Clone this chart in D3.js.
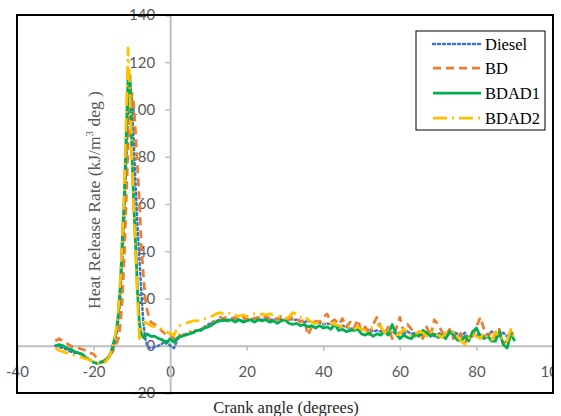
<!DOCTYPE html>
<html><head><meta charset="utf-8">
<script src="https://cdn.jsdelivr.net/npm/d3@7"></script>
<style>body{margin:0;background:#fff}svg{display:block}</style>
</head><body>
<svg id="c" width="561" height="416"></svg>
<script>
const angles = [-30,-29,-28,-27,-26,-25,-24,-23,-22,-21,-20,-19,-18,-17,-16,
 -15.5,-15,-14.5,-14,-13.5,-13,-12.5,-12,-11.5,-11,-10.5,-10,-9.5,-9,-8.5,-8,-7.5,-7,-6.5,-6,-5.5,-5,
 -4,-3,-2,-1,0,1,2,3,4,5,6,7,8,9,10,11,12,13,14,15,16,17,18,19,20,21,22,23,24,25,26,27,28,29,30,
 31,32,33,34,35,36,37,38,39,40,41,42,43,44,45,46,47,48,49,50,51,52,53,54,55,56,57,58,59,60,
 61,62,63,64,65,66,67,68,69,70,71,72,73,74,75,76,77,78,79,80,81,82,83,84,85,86,87,88,89,90];

const diesel = [0,-0.5,-1,-1.5,-2.5,-3,-3,-4,-5,-6,-7,-7.5,-7,-6.5,-5,
 -3.5,-2,1,5,11,21,36,54,76,98,112,104,86,67,50,36,22,10,3,0,-1,-1,
 -0.5,0,1,2,0,-1,3,4,5,5, 6,6.5,7,8,9,10,10.5,11,10.5,11,
 11,11.5,11,10.5,11,11,11.5,11,11,11.5, 11,11,11.5,11,11,11.5,11,11,10.5,10,
 10.5,10,9.5,10,9,9.5,9,8.5,8,8.5, 8,7.5,7,7.5,7,6.5,7,6,6.5,6,
 6,5.5,6,5,5.5,5,6,5,5.5,5, 4.5,5,6,4,5,5.5,4.5,5,6,5,
 4,5.5,3,5,4.5,5,4,5,6,5, 4,5.5,4,5,4];

const bd = [2,3,2,1,0,-1,-1,-1.5,-2,-3,-3.5,-5.5,-7,-6,-4,
 -3.5,-2.5,-1,1,3,9,20,37,60,84,100,107,102,89,75,60,42,30,20,15,12,10,
 9,8,6,4.5,5,3,5,4,5.5,6, 5.5,7,6.5,8,7,9.5,11,12,11.5,12.5,
 11.5,12,11,12,11,12.5,11.5,12,11,12.5, 11.5,12,11,12.5,11.5,11,12,11.5,10,11,
 4.5,8,10.5,10,12,13.5,10,11,9,11.5, 8,10,7.5,11,6,8,4,9,12,8,
 5,8,3,7,12,6,9,7,4,6, 3,8,4,11,9,6,4,7,3,6,
 5,1,5,4,8,12,7,4,6,3, 7,1,2,6,4];

const bdad1 = [0,0.5,0,-1,-1.5,-2.5,-3,-3.5,-5,-6,-7,-7.5,-7,-6.5,-4.5,
 -3,0,3,7,14,26,45,62,88,113,114.5,82,60,42,22,9,5,3.5,4,5,4.5,4,
 4,3,2.5,1,3,1.5,3.5,4,4.5,5, 5.5,6.5,6.5,7.5,8,9,10,10.5,11,10.5,
 11,10,11,10,10.5,11,10,11,10.5,11, 10,10.5,9.5,10.5,11,9.5,9,9.5,8.5,9,
 8,8.5,7.5,8.5,7.5,8,7,9,6.5,7, 6,6.5,6.5,7,5,4.5,5.5,4,5,4.5,
 6,4.5,9,5,3,4.5,3.5,3,5,4, 6.5,5.5,4,5,3.5,4.5,3,6,4.5,2.5,
 2,4,2,6,7.5,4,3,4,2,2, 6,0.5,-1,5,2];

const bdad2 = [-1,-2,-2.5,-3,-3.5,-4,-4.5,-5,-5.5,-6,-7,-7.5,-7.5,-7,-5,
 -3,-1,3,8,16,28,46,65,95,126,108,80,57,37,18,3,7,9,10,9.5,9,8.5,
 8,7.5,7,6,5,4.5,8,9,9.5,10, 10.5,10.5,11,11.5,12,12.5,13.5,14,13.5,14,
 13.5,13,12.5,13,12.5,13,13.5,13,13.5,13, 13.5,13,12.5,12,11.5,12,14,13.5,12,12.5,
 11,10,9.5,10,9.5,10,9.5,9,8.5,8, 8.5,8,7,8,7,6.5,7.5,8,9,8,
 5.5,7,6,4.5,5,7,6,4,5,6, 5.5,4,6,5,4.5,3.5,5.5,5,6,4,
 2,0.5,3,5,4,3,5.5,3,2.5,6, 3,3.5,2,7,2];

const seriesNames = ["Diesel","BD","BDAD1","BDAD2"];
const seriesData = [diesel, bd, bdad1, bdad2];
const seriesColors = ["#4472C4","#ED7D31","#00B050","#FFC000"];
const seriesDash = ["2,3","8,5","none","14,5,2,5"];
const seriesWidth = [2.5,2.75,2.75,2.75];
const xTicks = [-40,-20,0,20,40,60,80,100];
const yTicks = [-20,0,20,40,60,80,100,120,140];

const svg = d3.select("#c");
const L=17, R=553, T=15, B=393;
const x = d3.scaleLinear().domain([-40,100]).range([L,R]);
const y = d3.scaleLinear().domain([-20,140]).range([B,T]);

const gx = svg.append("g").attr("transform",`translate(0,${y(0)})`)
  .call(d3.axisBottom(x).tickValues(xTicks).tickFormat(d=>String(d)).tickSize(5).tickPadding(19));
const gy = svg.append("g").attr("transform",`translate(${x(0)},0)`)
  .call(d3.axisLeft(y).tickValues(yTicks).tickFormat(d=>String(d)).tickSize(5).tickPadding(10));
[gx,gy].forEach(g=>{
  g.select(".domain").attr("stroke","#BFBFBF").attr("stroke-width",2);
  g.selectAll(".tick line").attr("stroke","#BFBFBF").attr("stroke-width",1.5);
  g.selectAll(".tick text").attr("fill","#595959").style("font-family","Lato, 'Open Sans', sans-serif").style("font-size","15px");
});
gx.selectAll(".tick text").attr("dy","0.45em");

const line = d3.line().x((d,i)=>x(angles[i])).y(d=>y(d));
seriesData.forEach((s,k)=>{
  svg.append("path").datum(s).attr("d",line).attr("fill","none")
    .attr("stroke",seriesColors[k]).attr("stroke-width",seriesWidth[k])
    .attr("stroke-dasharray",seriesDash[k]==="none"?null:seriesDash[k])
    .attr("stroke-linecap",k===0?"round":"butt").attr("stroke-linejoin","round");
});

svg.append("rect").attr("x",R+1).attr("y",0).attr("width",20).attr("height",416).attr("fill","#fff");
svg.append("rect").attr("x",L).attr("y",T).attr("width",R-L).attr("height",B-T)
  .attr("fill","none").attr("stroke","#000").attr("stroke-width",2);

svg.append("text").attr("x",286).attr("y",413).attr("text-anchor","middle")
  .style("font-family","'Liberation Serif','Times New Roman',serif").style("font-size","16.5px").attr("fill","#262626")
  .text("Crank angle (degrees)");
const yt = svg.append("text").attr("transform","translate(100,200) rotate(-90)").attr("text-anchor","middle")
  .style("font-family","'Liberation Serif','Times New Roman',serif").style("font-size","17.5px").attr("fill","#595959");
yt.append("tspan").text("Heat Release Rate (kJ/m");
yt.append("tspan").attr("dy",-7).style("font-size","11px").text("3");
yt.append("tspan").attr("dy",7).text(" deg )");

const lg = svg.append("g");
lg.append("rect").attr("x",416).attr("y",31).attr("width",129).attr("height",99)
  .attr("fill","#fff").attr("stroke","#000").attr("stroke-width",1);
const ly = [44,68,93,118];
seriesNames.forEach((n,k)=>{
  lg.append("line").attr("x1",433).attr("x2",481).attr("y1",ly[k]).attr("y2",ly[k])
    .attr("stroke",seriesColors[k]).attr("stroke-width",seriesWidth[k])
    .attr("stroke-dasharray",seriesDash[k]==="none"?null:seriesDash[k])
    .attr("stroke-linecap",k===0?"round":"butt");
  lg.append("text").attr("x",485).attr("y",ly[k]).attr("dy","0.35em")
    .style("font-family","'Liberation Serif','Times New Roman',serif").style("font-size","16.5px").attr("fill","#000")
    .text(n);
});
</script>
</body></html>
